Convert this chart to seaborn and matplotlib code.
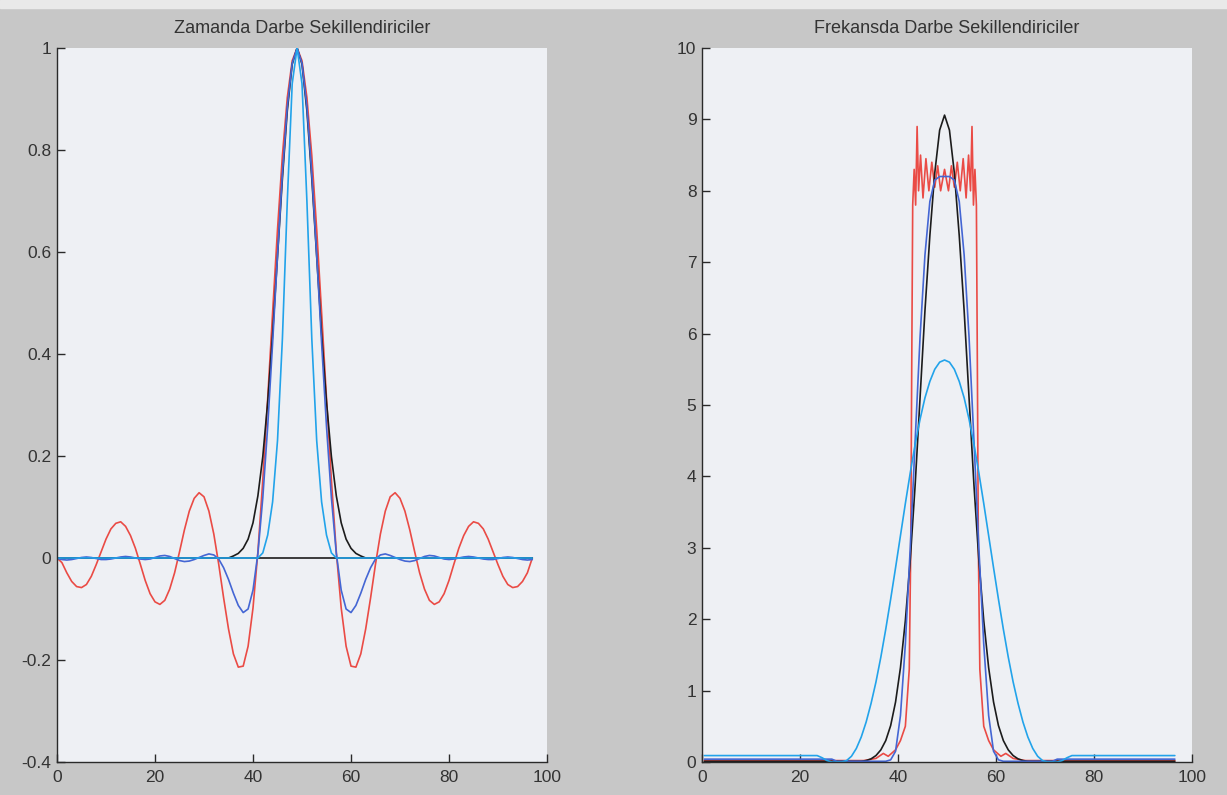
import numpy as np
import matplotlib.pyplot as plt
import seaborn as sns
from matplotlib.patches import Rectangle

# ---------------- Zamanda (sol grafik) ----------------
zaman_x = list(range(0, 98))

# kirmizi: sinc darbesi
darbe_sinc = [
    0.0, -0.009, -0.029, -0.046, -0.056, -0.058, -0.052, -0.036, -0.013, 0.012,
    0.037, 0.057, 0.068, 0.071, 0.062, 0.044, 0.019, -0.012, -0.044, -0.070,
    -0.086, -0.091, -0.083, -0.061, -0.029, 0.012, 0.055, 0.092, 0.117, 0.128,
    0.120, 0.092, 0.047, -0.012, -0.078, -0.139, -0.188, -0.214, -0.212, -0.173,
    -0.098, 0.012, 0.153, 0.313, 0.481, 0.644, 0.789, 0.903, 0.975, 1.000,
    0.975, 0.903, 0.789, 0.644, 0.481, 0.313, 0.153, 0.012, -0.098, -0.173,
    -0.212, -0.214, -0.188, -0.139, -0.078, -0.012, 0.047, 0.092, 0.120, 0.128,
    0.117, 0.092, 0.055, 0.012, -0.029, -0.061, -0.083, -0.091, -0.086, -0.070,
    -0.044, -0.012, 0.019, 0.044, 0.062, 0.071, 0.068, 0.057, 0.037, 0.012,
    -0.013, -0.036, -0.052, -0.058, -0.056, -0.046, -0.029, 0.0,
]

# siyah: gauss darbesi
darbe_gauss = [0.0] * 36 + [
    0.004, 0.009, 0.019, 0.037, 0.069, 0.122, 0.199, 0.306, 0.439, 0.591,
    0.744, 0.877, 0.968, 1.000, 0.968, 0.877, 0.744, 0.591, 0.439, 0.306,
    0.199, 0.122, 0.069, 0.037, 0.019, 0.009, 0.004,
] + [0.0] * 35

# mavi: yukselen kosinus darbesi
darbe_ykosinus = [
    -0.001, -0.003, -0.004, -0.003, -0.001, 0.001, 0.002, 0.001, -0.001, -0.003,
    -0.003, -0.002, 0.0, 0.002, 0.003, 0.002, 0.0, -0.002, -0.003, -0.002,
    0.001, 0.004, 0.005, 0.003, -0.001, -0.005, -0.007, -0.006, -0.003, 0.001,
    0.005, 0.008, 0.006, -0.002, -0.019, -0.042, -0.069, -0.093, -0.107, -0.100,
    -0.063, 0.009, 0.118, 0.258, 0.421, 0.593, 0.753, 0.885, 0.970, 1.000,
    0.970, 0.885, 0.753, 0.593, 0.421, 0.258, 0.118, 0.009, -0.063, -0.100,
    -0.107, -0.093, -0.069, -0.042, -0.019, -0.002, 0.006, 0.008, 0.005, 0.001,
    -0.003, -0.006, -0.007, -0.005, -0.001, 0.003, 0.005, 0.004, 0.001, -0.002,
    -0.003, -0.002, 0.0, 0.002, 0.003, 0.002, 0.0, -0.002, -0.003, -0.003,
    -0.001, 0.001, 0.002, 0.001, -0.001, -0.003, -0.004, -0.003,
]

# acik mavi: dar darbe
darbe_dar = [0.0] * 42 + [
    0.01, 0.045, 0.11, 0.23, 0.43, 0.70, 0.93, 1.00, 0.93, 0.70,
    0.43, 0.23, 0.11, 0.045, 0.01,
] + [0.0] * 41

sifir_cizgisi = [0.0] * 98

# ---------------- Frekansda (sag grafik) ----------------
frekans_x = [i + 0.5 for i in range(97)]

spektrum_gauss = [0.01] * 33 + [
    0.02, 0.044, 0.09, 0.17, 0.30, 0.51, 0.84, 1.32, 1.98, 2.83,
    3.88, 5.10, 6.32, 7.37, 8.25, 8.85, 9.06, 8.85, 8.25, 7.37,
    6.32, 5.10, 3.88, 2.83, 1.98, 1.32, 0.84, 0.51, 0.30, 0.17,
    0.09, 0.044, 0.02,
] + [0.01] * 31

spektrum_ykosinus = [0.04] * 27 + [0.01] * 11 + [
    0.03, 0.15, 0.65, 1.65, 3.0, 4.5, 5.95, 7.1, 7.85, 8.15,
    8.2, 8.2, 8.2, 8.15, 7.85, 7.1, 5.95, 4.5, 3.0, 1.65,
    0.65, 0.15, 0.03,
] + [0.01] * 11 + [0.04] * 25

spektrum_dar = [0.09] * 24 + [
    0.06, 0.02, 0.0, 0.0, 0.0, 0.02, 0.08, 0.19, 0.35, 0.56,
    0.82, 1.12, 1.47, 1.86, 2.28, 2.72, 3.17, 3.62, 4.05, 4.45,
    4.80, 5.10, 5.33, 5.50, 5.60, 5.63, 5.60, 5.50, 5.33, 5.10,
    4.80, 4.45, 4.05, 3.62, 3.17, 2.72, 2.28, 1.86, 1.47, 1.12,
    0.82, 0.56, 0.35, 0.19, 0.08, 0.02, 0.0, 0.0, 0.0, 0.02,
    0.06,
] + [0.09] * 22

spektrum_sinc_x = [
    0.5, 33.0, 35.5, 37.0, 38.0, 39.5, 40.5, 41.5, 42.3, 42.6,
    42.8, 43.0, 43.3, 43.6, 43.9, 44.2, 44.6, 45.1, 45.7, 46.3,
    46.9, 47.5, 48.1, 48.7, 49.5, 50.3, 50.9, 51.5, 52.1, 52.7,
    53.3, 53.9, 54.4, 54.8, 55.1, 55.4, 55.7, 56.0, 56.2, 56.4,
    56.7, 57.5, 58.5, 59.5, 61.0, 62.0, 63.5, 66.0, 96.5,
]
spektrum_sinc = [
    0.02, 0.02, 0.05, 0.12, 0.08, 0.17, 0.30, 0.50, 1.30, 3.00,
    5.50, 7.80, 8.30, 7.80, 8.90, 8.00, 8.50, 7.90, 8.45, 8.00,
    8.40, 8.05, 8.35, 8.00, 8.30, 8.00, 8.35, 8.05, 8.40, 8.00,
    8.45, 7.90, 8.50, 8.00, 8.90, 7.80, 8.30, 7.80, 5.50, 3.00,
    1.30, 0.50, 0.30, 0.17, 0.08, 0.12, 0.05, 0.02, 0.02,
]

sol_yticks = [-0.4, -0.2, 0, 0.2, 0.4, 0.6, 0.8, 1]
sol_yetiket = ["-0.4", "-0.2", "0", "0.2", "0.4", "0.6", "0.8", "1"]
sag_yticks = list(range(0, 11))
xticks = [0, 20, 40, 60, 80, 100]

KIRMIZI = "#ea4b45"
SIYAH = "#1c1c1c"
MAVI = "#4466d4"
ACIK_MAVI = "#22a3ea"

sns.set_theme(style="ticks")
plt.rcParams["font.family"] = ["Liberation Sans", "DejaVu Sans"]
plt.rcParams["axes.unicode_minus"] = False

fig = plt.figure(figsize=(12.27, 7.95), dpi=100, facecolor="#c7c7c7")
fig.add_artist(Rectangle((0, 0.99), 1, 0.01, transform=fig.transFigure,
                         color="#e9e9e9", zorder=0))

ax1 = fig.add_axes([57 / 1227, 33 / 795, 490 / 1227, 714 / 795])
ax2 = fig.add_axes([702 / 1227, 33 / 795, 490 / 1227, 714 / 795])

lw = 1.2
for y, c in [(darbe_sinc, KIRMIZI), (darbe_gauss, SIYAH), (sifir_cizgisi, SIYAH),
             (darbe_ykosinus, MAVI), (darbe_dar, ACIK_MAVI)]:
    sns.lineplot(x=zaman_x, y=y, ax=ax1, color=c, linewidth=lw,
                 estimator=None, sort=False)

sns.lineplot(x=spektrum_sinc_x, y=spektrum_sinc, ax=ax2, color=KIRMIZI,
             linewidth=lw, estimator=None, sort=False)
for y, c in [(spektrum_gauss, SIYAH), (spektrum_ykosinus, MAVI),
             (spektrum_dar, ACIK_MAVI)]:
    sns.lineplot(x=frekans_x, y=y, ax=ax2, color=c, linewidth=lw,
                 estimator=None, sort=False)

ax1.set_xlim(0, 100)
ax1.set_ylim(-0.4, 1)
ax1.set_yticks(sol_yticks)
ax1.set_yticklabels(sol_yetiket)
ax1.set_title("Zamanda Darbe Sekillendiriciler", fontsize=13, color="#333333", pad=11)

ax2.set_xlim(0, 100)
ax2.set_ylim(0, 10)
ax2.set_yticks(sag_yticks)
ax2.set_yticklabels([str(v) for v in sag_yticks])
ax2.set_title("Frekansda Darbe Sekillendiriciler", fontsize=13, color="#333333", pad=11)

for ax in (ax1, ax2):
    ax.set_facecolor("#eef0f4")
    ax.set_xticks(xticks)
    ax.set_xticklabels([str(v) for v in xticks])
    ax.set_xlabel("")
    ax.set_ylabel("")
    for s in ("top", "right"):
        ax.spines[s].set_visible(False)
    for s in ("left", "bottom"):
        ax.spines[s].set_color("#2a2a2a")
        ax.spines[s].set_linewidth(1.0)
    ax.tick_params(direction="in", length=6, width=1.0, colors="#2a2a2a",
                   labelsize=12.5, labelcolor="#333333")
    ax.tick_params(axis="x", pad=6)
    ax.tick_params(axis="y", pad=4)

fig.savefig("out.png", dpi=100, facecolor=fig.get_facecolor())
